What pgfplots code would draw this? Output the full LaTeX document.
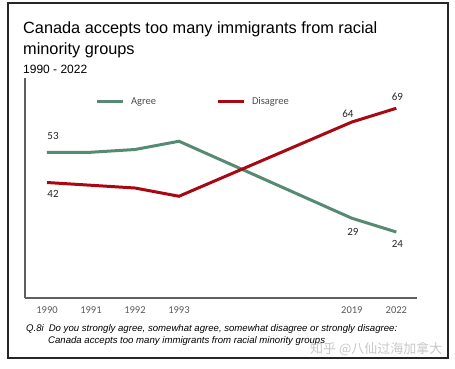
\documentclass[border=0pt]{standalone}
\usepackage{pgfplots}
\pgfplotsset{compat=1.18}
\usepackage{fontspec}
\setmainfont{Liberation Sans}
\newfontfamily\lab{Carlito}
\newfontfamily\cjk{Noto Sans CJK SC}
\definecolor{agree}{RGB}{86,138,114}
\definecolor{disagree}{RGB}{168,8,18}
\definecolor{axisgray}{RGB}{95,95,95}
\newcommand\lbl[4]{\addplot[draw=none, forget plot, nodes near coords, point meta=explicit symbolic,
  every node near coord/.style={anchor=center, inner sep=0pt, font=\lab\fontsize{11}{12}\selectfont, text=black!85, xshift=#3pt, yshift=#4pt}] coordinates {(#1)[#2]};}
\begin{document}
\begin{tikzpicture}
\useasboundingbox (0pt,0pt) rectangle (455pt,368pt);
\draw[line width=1.3pt, black!85] (8pt,10pt) rectangle (448pt,365pt);
\node[anchor=base west, inner sep=0, font=\fontsize{16.3}{19}\selectfont] at (23pt,335pt) {Canada accepts too many immigrants from racial};
\node[anchor=base west, inner sep=0, font=\fontsize{16.3}{19}\selectfont] at (23pt,314pt) {minority groups};
\node[anchor=base west, inner sep=0, font=\fontsize{12}{14}\selectfont] at (23pt,295pt) {1990 - 2022};
\begin{axis}[
  at={(25pt,70pt)}, anchor=south west,
  width=392pt, height=220pt, scale only axis,
  xmin=-0.5, xmax=8.41, ymin=0, ymax=80,
  axis lines=left,
  axis line style={-, line width=1.3pt, axisgray},
  ytick=\empty,
  xtick={0,1,2,3,6.93,7.94},
  xticklabels={1990,1991,1992,1993,2019,2022},
  major tick length=0pt,
  xticklabel style={font=\lab\fontsize{10.5}{12}\selectfont, text=black!65, yshift=-5pt},
  clip=false,
  legend columns=2,
  legend style={draw=none, fill=none, inner sep=0pt, outer sep=0pt,
    at={(0.1786,0.891)}, anchor=west,
    nodes={inner sep=0pt, font=\lab\fontsize{10.5}{12}\selectfont, text=black!70},
    /tikz/every odd column/.style={column sep=7pt},
    /tikz/every even column/.style={column sep=60pt}},
  legend image code/.code={\draw[#1, line width=3pt] (0pt,0pt) -- (26pt,0pt);},
]
\addplot[agree, line width=3pt] coordinates {(0,53) (1,53) (2,54) (3,57) (6.93,29) (7.94,24)};
\addlegendentry{Agree}
\addplot[disagree, line width=3pt] coordinates {(0,42) (1,41) (2,40) (3,37) (6.93,64) (7.94,69)};
\addlegendentry{Disagree}
\lbl{0,53}{53}{6}{16}
\lbl{0,42}{42}{6}{-11}
\lbl{6.93,64}{64}{-4}{8}
\lbl{7.94,69}{69}{1}{11}
\lbl{6.93,29}{29}{1}{-14}
\lbl{7.94,24}{24}{1}{-12}
\end{axis}
\node[anchor=base west, inner sep=0, font=\itshape\fontsize{9.6}{11}\selectfont] at (26pt,37pt) {Q.8i\hspace{5pt}Do you strongly agree, somewhat agree, somewhat disagree or strongly disagree:};
\node[anchor=base west, inner sep=0, font=\itshape\fontsize{9.6}{11}\selectfont] at (48pt,25pt) {Canada accepts too many immigrants from racial minority groups};
\node[anchor=base west, inner sep=0, font=\cjk\fontsize{13}{15}\selectfont, text=black!22] at (310pt,15pt) {知乎 @八仙过海加拿大};
\end{tikzpicture}
\end{document}
